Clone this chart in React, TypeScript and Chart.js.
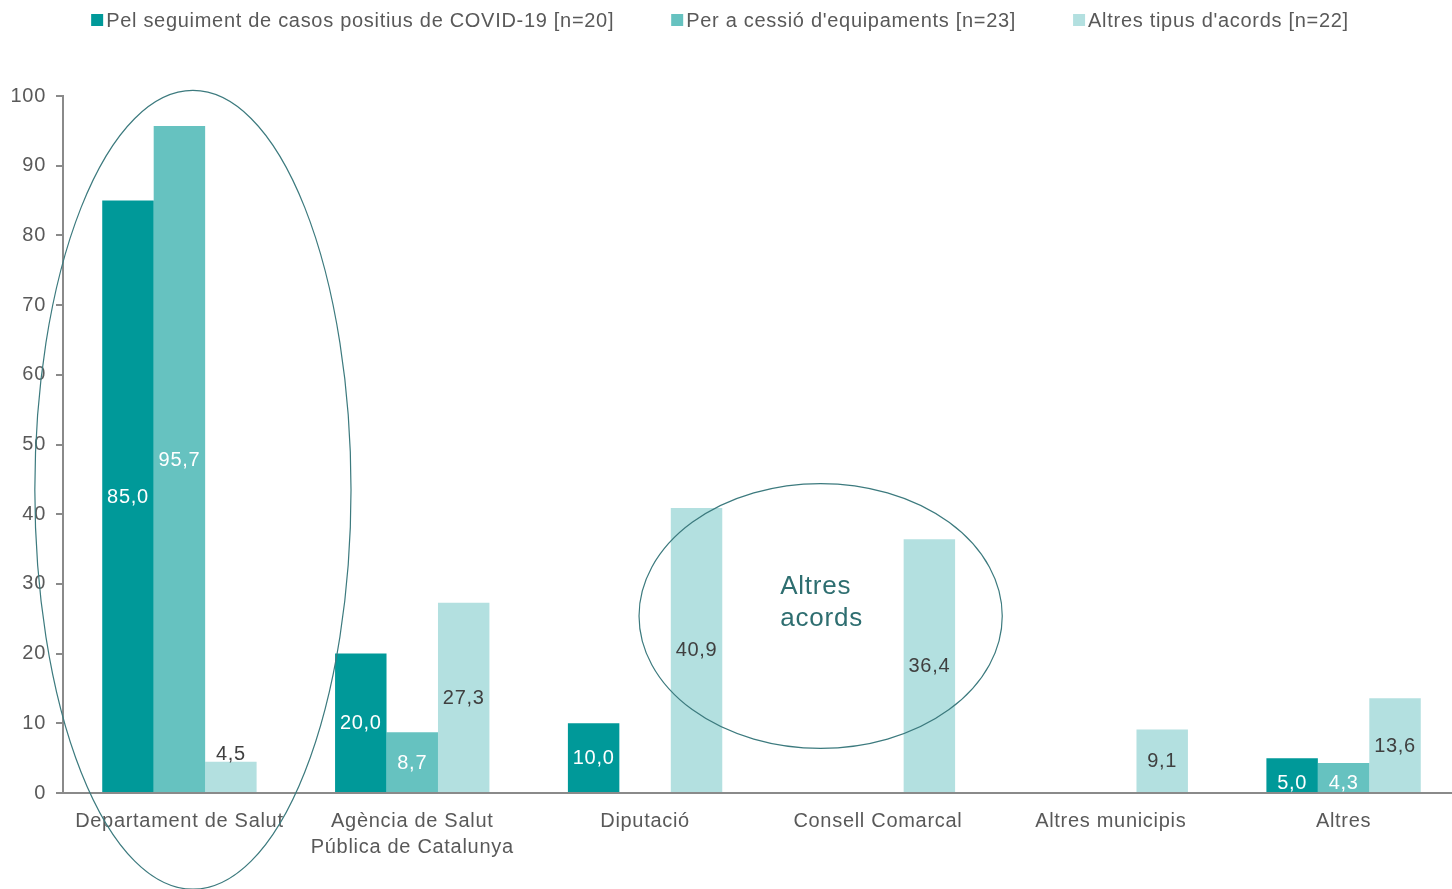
import React, { useEffect, useRef } from "react";
import { Chart, registerables } from "chart.js";

Chart.register(...registerables);

const categories: (string | string[])[] = [
  "Departament de Salut",
  ["Agència de Salut", "Pública de Catalunya"],
  "Diputació",
  "Consell Comarcal",
  "Altres municipis",
  "Altres",
];
const seriesNames = [
  "Pel seguiment de casos positius de COVID-19 [n=20]",
  "Per a cessió d'equipaments [n=23]",
  "Altres tipus d'acords [n=22]",
];
const covidValues = [85.0, 20.0, 10.0, 0, 0, 5.0];
const equipValues = [95.7, 8.7, 0, 0, 0, 4.3];
const altresValues = [4.5, 27.3, 40.9, 36.4, 9.1, 13.6];
const seriesColors = ["#009999", "#66C2C0", "#B3E0E0"];
const labelColors = ["#FFFFFF", "#FFFFFF", "#404040"];

// Annotation ellipses in data units: [center category index, center value, radius in categories, radius in values]
const ellipseSalut = [0.058, 43.5, 0.679, 57.3];
const ellipseAcords = [2.754, 25.4, 0.78, 19.0];
// Annotation text: [category index, value] per line
const acordsText = ["Altres", "acords"];
const acordsTextPos = [
  [2.58, 29.6],
  [2.58, 25.0],
];

const FONT = "'Liberation Sans', Arial, sans-serif";
const TEXT_COLOR = "#595959";
const AXIS_COLOR = "#8A8A8A";
const SPACING = "0.7px";

const fmt = (v: number) => v.toFixed(1).replace(".", ",");

const spacingPlugin = {
  id: "letterSpacing",
  beforeUpdate(chart: any) {
    chart.ctx.letterSpacing = SPACING;
  },
  beforeLayout(chart: any) {
    chart.ctx.letterSpacing = SPACING;
  },
  beforeDraw(chart: any) {
    chart.ctx.letterSpacing = SPACING;
  },
};

const legendPlugin = {
  id: "customLegend",
  afterDraw(chart: any) {
    const ctx = chart.ctx;
    ctx.save();
    ctx.letterSpacing = SPACING;
    ctx.font = `20px ${FONT}`;
    const box = 12;
    const gap = 3;
    const spacing = 57;
    const widths = seriesNames.map((t) => box + gap + ctx.measureText(t).width);
    const total = widths.reduce((a, b) => a + b, 0) + spacing * (widths.length - 1);
    let x = (chart.width - 20) / 2 - total / 2;
    const cy = 20;
    seriesNames.forEach((t, i) => {
      ctx.fillStyle = seriesColors[i];
      ctx.fillRect(x, cy - box / 2, box, box);
      ctx.fillStyle = TEXT_COLOR;
      ctx.textBaseline = "middle";
      ctx.textAlign = "left";
      ctx.fillText(t, x + box + gap, cy + 1);
      x += widths[i] + spacing;
    });
    ctx.restore();
  },
};

const valueLabelPlugin = {
  id: "valueLabels",
  afterDatasetsDraw(chart: any) {
    const ctx = chart.ctx;
    ctx.save();
    ctx.letterSpacing = SPACING;
    ctx.font = `20px ${FONT}`;
    ctx.textAlign = "center";
    ctx.textBaseline = "middle";
    chart.data.datasets.forEach((ds: any, di: number) => {
      const meta = chart.getDatasetMeta(di);
      meta.data.forEach((el: any, i: number) => {
        const v = ds.data[i];
        if (!v) return;
        let y = (el.y + el.base) / 2;
        if (di === 2 && v < 5) {
          y = el.y - 8;
        } else if (el.base - el.y < 40) {
          y = el.base - 10;
        }
        ctx.fillStyle = labelColors[di];
        ctx.fillText(fmt(v), el.x, y + 1);
      });
    });
    ctx.restore();
  },
};

const annotationPlugin = {
  id: "annotations",
  afterDraw(chart: any) {
    const ctx = chart.ctx;
    const xs = chart.scales.x;
    const ys = chart.scales.y;
    const catW = xs.getPixelForValue(1) - xs.getPixelForValue(0);
    const unit = ys.getPixelForValue(0) - ys.getPixelForValue(1);
    ctx.save();
    ctx.strokeStyle = "#3C7A7E";
    ctx.lineWidth = 1.2;
    [ellipseSalut, ellipseAcords].forEach(([cx, cy, rx, ry]) => {
      ctx.beginPath();
      ctx.ellipse(
        xs.getPixelForValue(cx),
        ys.getPixelForValue(cy),
        rx * catW,
        ry * unit,
        0,
        0,
        Math.PI * 2
      );
      ctx.stroke();
    });
    ctx.fillStyle = "#2E6E70";
    ctx.letterSpacing = "0.8px";
    ctx.font = `26px ${FONT}`;
    ctx.textAlign = "left";
    ctx.textBaseline = "middle";
    acordsText.forEach((t, i) => {
      const [cx, cy] = acordsTextPos[i];
      ctx.fillText(t, xs.getPixelForValue(cx), ys.getPixelForValue(cy));
    });
    ctx.restore();
  },
};

export default function App() {
  const canvasRef = useRef<HTMLCanvasElement | null>(null);

  useEffect(() => {
    if (!canvasRef.current) return;
    const chart = new Chart(canvasRef.current, {
      type: "bar",
      data: {
        labels: categories,
        datasets: [covidValues, equipValues, altresValues].map((d, i) => ({
          label: seriesNames[i],
          data: d,
          backgroundColor: seriesColors[i],
          borderWidth: 0,
          categoryPercentage: 0.663,
          barPercentage: 1,
        })),
      },
      options: {
        responsive: false,
        animation: false,
        maintainAspectRatio: false,
        layout: { padding: { top: 96, bottom: 14, left: 0, right: 0 } },
        plugins: {
          legend: { display: false },
          tooltip: { enabled: false },
        },
        scales: {
          x: {
            grid: { display: false, drawTicks: false },
            border: { display: true, color: AXIS_COLOR, width: 2 },
            ticks: {
              color: TEXT_COLOR,
              font: { family: FONT, size: 20, lineHeight: 1.3 },
              padding: 15,
              maxRotation: 0,
              autoSkip: false,
            },
          },
          y: {
            min: 0,
            max: 100,
            afterFit: (scale: any) => {
              scale.width = 63;
            },
            grid: {
              display: true,
              drawOnChartArea: false,
              drawTicks: true,
              tickLength: 7,
              color: AXIS_COLOR,
              lineWidth: 2,
            },
            border: { display: true, color: AXIS_COLOR, width: 2 },
            ticks: {
              stepSize: 10,
              color: TEXT_COLOR,
              font: { family: FONT, size: 20 },
              padding: 10,
            },
          },
        },
      },
      plugins: [spacingPlugin, valueLabelPlugin, annotationPlugin, legendPlugin],
    });
    return () => chart.destroy();
  }, []);

  return (
    <div
      style={{
        position: "fixed",
        left: 0,
        top: 0,
        width: 1452,
        height: 889,
        overflow: "hidden",
        background: "#fff",
      }}
    >
      <canvas ref={canvasRef} width={1460} height={889} style={{ display: "block" }} />
    </div>
  );
}
